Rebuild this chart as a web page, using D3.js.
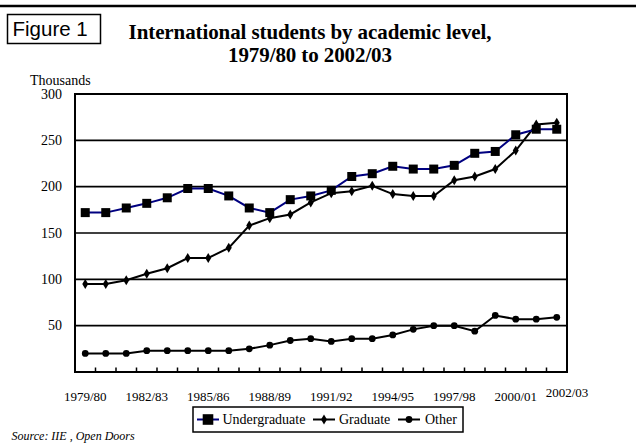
<!DOCTYPE html>
<html>
<head>
<meta charset="utf-8">
<script src="https://cdn.jsdelivr.net/npm/d3@7"></script>
<style>
  body { margin: 0; background: #fff; }
  svg { display: block; }
</style>
</head>
<body>
<script>
// academic years on the x axis
var years = ['1979/80', '1980/81', '1981/82', '1982/83', '1983/84', '1984/85', '1985/86', '1986/87',
    '1987/88', '1988/89', '1989/90', '1990/91', '1991/92', '1992/93', '1993/94', '1994/95',
    '1995/96', '1996/97', '1997/98', '1998/99', '1999/00', '2000/01', '2001/02', '2002/03'];

// thousands of students
var undergraduate = [172, 172, 177, 182, 188, 198, 198, 190, 177, 172, 186, 190,
    196, 211, 214, 222, 219, 219, 223, 236, 238, 256, 262, 262];
var graduate = [95, 95, 99, 106, 112, 123, 123, 134, 158, 166, 170, 183,
    193, 195, 201, 192, 190, 190, 207, 211, 219, 239, 267, 269];
var other = [20, 20, 20, 23, 23, 23, 23, 23, 25, 29, 34, 36,
    33, 36, 36, 40, 46, 50, 50, 44, 61, 57, 57, 59];

var yTicks = [50, 100, 150, 200, 250, 300];
var xLabels = ['1979/80', '1982/83', '1985/86', '1988/89', '1991/92', '1994/95', '1997/98', '2000/01', '2002/03'];
var seriesNames = ['Undergraduate', 'Graduate', 'Other'];

var width = 636;
var height = 448;
var plot = { left: 75, right: 567, top: 94, bottom: 372 };
var serif = '"Liberation Serif", "Times New Roman", serif';
var sans = '"Liberation Sans", Arial, sans-serif';

var svg = d3.select('body').append('svg')
    .attr('width', width)
    .attr('height', height);

var x = d3.scalePoint()
    .domain(years)
    .range([plot.left, plot.right])
    .padding(0.5);

var y = d3.scaleLinear()
    .domain([0, 300])
    .range([plot.bottom, plot.top]);

// heavy rule across the top of the page
svg.append('line')
    .attr('x1', 0).attr('x2', width)
    .attr('y1', 6).attr('y2', 6)
    .attr('stroke', '#000').attr('stroke-width', 2.5);

// "Figure 1" box
svg.append('rect')
    .attr('x', 7.5).attr('y', 14.5)
    .attr('width', 93).attr('height', 29)
    .attr('fill', 'none').attr('stroke', '#000').attr('stroke-width', 1.5);
svg.append('text')
    .attr('x', 12.5).attr('y', 36)
    .style('font-family', sans).style('font-size', '20.5px')
    .text('Figure 1');

// title
var title = svg.append('text')
    .attr('text-anchor', 'middle')
    .style('font-family', serif).style('font-size', '21px')
    .style('font-weight', 'bold').style('letter-spacing', '-0.1px');
title.append('tspan').attr('x', 310).attr('y', 38.5).text('International students by academic level,');
title.append('tspan').attr('x', 310).attr('y', 61.5).text('1979/80 to 2002/03');

svg.append('text')
    .attr('x', 30).attr('y', 84.5)
    .style('font-family', serif).style('font-size', '14px')
    .text('Thousands');

// gridlines
svg.append('g')
    .selectAll('line')
    .data(yTicks.slice(0, -1))
    .join('line')
    .attr('x1', plot.left).attr('x2', plot.right)
    .attr('y1', function(d) { return y(d); })
    .attr('y2', function(d) { return y(d); })
    .attr('stroke', '#000').attr('stroke-width', 1.6);

// y labels
svg.append('g')
    .selectAll('text')
    .data(yTicks)
    .join('text')
    .attr('x', 62)
    .attr('y', function(d) { return y(d) + 4.5; })
    .attr('text-anchor', 'end')
    .style('font-family', serif).style('font-size', '14px')
    .text(function(d) { return d; });

// plot frame
svg.append('rect')
    .attr('x', plot.left).attr('y', plot.top)
    .attr('width', plot.right - plot.left).attr('height', plot.bottom - plot.top)
    .attr('fill', 'none').attr('stroke', '#000').attr('stroke-width', 2);

// small inward ticks between categories
svg.append('g')
    .selectAll('line')
    .data(years.slice(0, -1))
    .join('line')
    .attr('x1', function(d) { return x(d) + x.step() / 2; })
    .attr('x2', function(d) { return x(d) + x.step() / 2; })
    .attr('y1', plot.bottom)
    .attr('y2', plot.bottom - 4.5)
    .attr('stroke', '#000').attr('stroke-width', 1.5);

// x labels, the last one sits on the right edge a little higher
svg.append('g')
    .selectAll('text')
    .data(xLabels)
    .join('text')
    .attr('x', function(d, i) { return i === xLabels.length - 1 ? plot.right : x(d); })
    .attr('y', function(d, i) { return i === xLabels.length - 1 ? 397 : 400.5; })
    .attr('text-anchor', 'middle')
    .style('font-family', serif).style('font-size', '13px')
    .text(function(d) { return d; });

var line = d3.line()
    .x(function(d, i) { return x(years[i]); })
    .y(function(d) { return y(d); });

function drawSeries(values, color, marker) {
    var g = svg.append('g');
    g.append('path')
        .datum(values)
        .attr('d', line)
        .attr('fill', 'none')
        .attr('stroke', color)
        .attr('stroke-width', 2);
    g.selectAll('path.m')
        .data(values)
        .join('path')
        .attr('class', 'm')
        .attr('transform', function(d, i) { return 'translate(' + x(years[i]) + ',' + y(d) + ')'; })
        .attr('d', marker)
        .attr('fill', '#000');
}

var square = 'M-4.5,-4.5H4.5V4.5H-4.5Z';
var diamond = 'M0,-5L3,0L0,5L-3,0Z';
var circle = d3.symbol().type(d3.symbolCircle).size(36)();

drawSeries(other, '#000', circle);
drawSeries(graduate, '#000', diamond);
drawSeries(undergraduate, '#000080', square);

// legend
var legend = svg.append('g');
legend.append('rect')
    .attr('x', 193).attr('y', 407)
    .attr('width', 270).attr('height', 25)
    .attr('fill', '#fff').attr('stroke', '#000').attr('stroke-width', 1.5);

var legendItems = [
    { name: seriesNames[0], x0: 197, color: '#000080', marker: 'M-5.3,-5.3H5.3V5.3H-5.3Z', tx: 222.5 },
    { name: seriesNames[1], x0: 313, color: '#000', marker: diamond, tx: 339 },
    { name: seriesNames[2], x0: 398, color: '#000', marker: circle, tx: 425 }
];
var item = legend.selectAll('g')
    .data(legendItems)
    .join('g');
item.append('line')
    .attr('x1', function(d) { return d.x0; })
    .attr('x2', function(d) { return d.x0 + 22; })
    .attr('y1', 419.5).attr('y2', 419.5)
    .attr('stroke', function(d) { return d.color; })
    .attr('stroke-width', 2);
item.append('path')
    .attr('transform', function(d) { return 'translate(' + (d.x0 + 11) + ',419.5)'; })
    .attr('d', function(d) { return d.marker; })
    .attr('fill', '#000');
item.append('text')
    .attr('x', function(d) { return d.tx; })
    .attr('y', 424)
    .style('font-family', serif).style('font-size', '14px')
    .text(function(d) { return d.name; });

svg.append('text')
    .attr('x', 11.5).attr('y', 439.5)
    .style('font-family', serif).style('font-size', '12px').style('font-style', 'italic')
    .text('Source: IIE , Open Doors');
</script>
</body>
</html>
